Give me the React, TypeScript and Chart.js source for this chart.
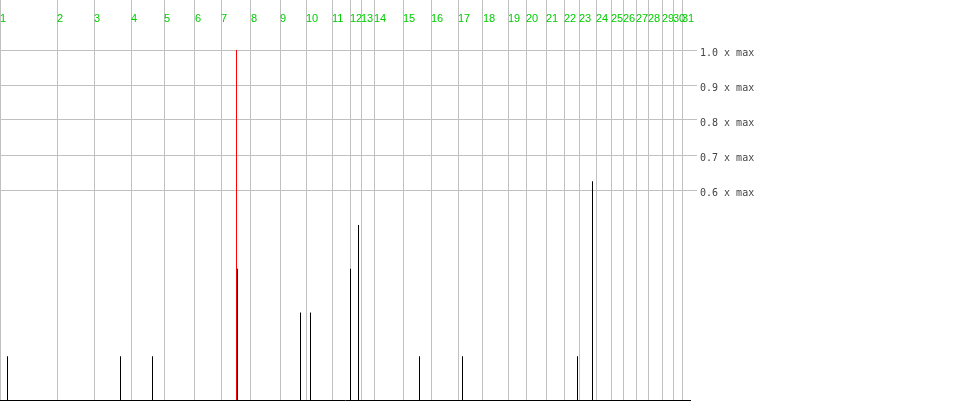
import { useEffect, useRef } from "react";
import { Chart, registerables } from "chart.js";

Chart.register(...registerables);

// Day labels along the top axis and the sample index at which each day begins
const dayLabels = [
  "1", "2", "3", "4", "5", "6", "7", "8", "9", "10",
  "11", "12", "13", "14", "15", "16", "17", "18", "19", "20",
  "21", "22", "23", "24", "25", "26", "27", "28", "29", "30", "31",
];
const dayStarts = [
  0, 57, 94, 131, 164, 195, 221, 251, 280, 306,
  332, 350, 361, 374, 403, 431, 458, 483, 508, 526,
  546, 564, 579, 596, 611, 623, 636, 648, 662, 673, 682,
];

// Event positions (sample index) and their share of the maximum
const eventPositions = [7.5, 120.5, 152.5, 237.5, 300.5, 310.5, 350.5, 358.5, 419.5, 462.5, 577.5, 592.5];
const eventShares = [0.125, 0.125, 0.125, 0.375, 0.25, 0.25, 0.375, 0.5, 0.125, 0.125, 0.125, 0.625];

// Current-position marker
const markerPosition = 236.5;
const markerShare = 1.0;

// Right-axis tick values
const yTickValues = [0.6, 0.7, 0.8, 0.9, 1.0];

const xMin = 0;
const xMax = 690;

export default function App() {
  const ref = useRef<HTMLCanvasElement>(null);

  useEffect(() => {
    if (!ref.current) return;
    const chart = new Chart(ref.current, {
      type: "bar",
      data: {
        datasets: [
          {
            type: "bar",
            data: eventPositions.map((x, i) => ({ x, y: eventShares[i] })),
            backgroundColor: "#000000",
            borderWidth: 0,
            grouped: false,
            maxBarThickness: 1,
            inflateAmount: 0,
            order: 0,
            xAxisID: "x",
            yAxisID: "y",
          } as any,
          {
            type: "line",
            data: [
              { x: markerPosition, y: 0 },
              { x: markerPosition, y: markerShare },
            ],
            borderColor: "#ff0000",
            borderWidth: 1,
            pointRadius: 0,
            fill: false,
            tension: 0,
            order: 1,
            xAxisID: "x",
            yAxisID: "y",
          } as any,
        ],
      },
      options: {
        responsive: false,
        animation: false,
        devicePixelRatio: 1,
        layout: { padding: 0 },
        plugins: {
          legend: { display: false },
          tooltip: { enabled: false },
        },
        scales: {
          x: {
            type: "linear",
            position: "top",
            min: xMin,
            max: xMax,
            offset: false,
            afterBuildTicks: (s: any) => {
              s.ticks = dayStarts.map((v) => ({ value: v }));
            },
            afterFit: (s: any) => {
              s.height = 50;
            },
            grid: {
              color: "#c0c0c0",
              lineWidth: 1,
              tickLength: 50,
              offset: false,
              drawOnChartArea: true,
              drawTicks: true,
            },
            border: { display: false },
            ticks: {
              autoSkip: false,
              maxRotation: 0,
              minRotation: 0,
              align: "start",
              padding: -25.5,
              color: "#00cc00",
              font: { family: '"Liberation Sans", Arial, sans-serif', size: 11 },
              callback: (_v: any, i: number) => dayLabels[i],
            },
          } as any,
          xb: {
            type: "linear",
            position: "bottom",
            min: xMin,
            max: xMax,
            offset: false,
            afterFit: (s: any) => {
              s.height = 20;
            },
            grid: { display: true, drawOnChartArea: false, drawTicks: false, offset: false },
            border: { display: true, color: "#000000", width: 1 },
            ticks: { display: false },
          } as any,
          y: {
            type: "linear",
            position: "right",
            min: 0,
            max: 1,
            afterBuildTicks: (s: any) => {
              s.ticks = yTickValues.map((v) => ({ value: v }));
            },
            afterFit: (s: any) => {
              s.width = 270;
            },
            grid: { color: "#c0c0c0", lineWidth: 1, tickLength: 7 },
            border: { display: false },
            ticks: {
              padding: 3,
              labelOffset: 3.5,
              color: "#444444",
              font: { family: '"DejaVu Sans Mono", monospace', size: 10 },
              callback: (v: any) => Number(v).toFixed(1) + " x max",
            },
          } as any,
        },
      },
    });
    return () => chart.destroy();
  }, []);

  return (
    <div style={{ position: "absolute", left: 0, top: 0, width: 960, height: 420 }}>
      <canvas ref={ref} width={960} height={420} />
    </div>
  );
}
